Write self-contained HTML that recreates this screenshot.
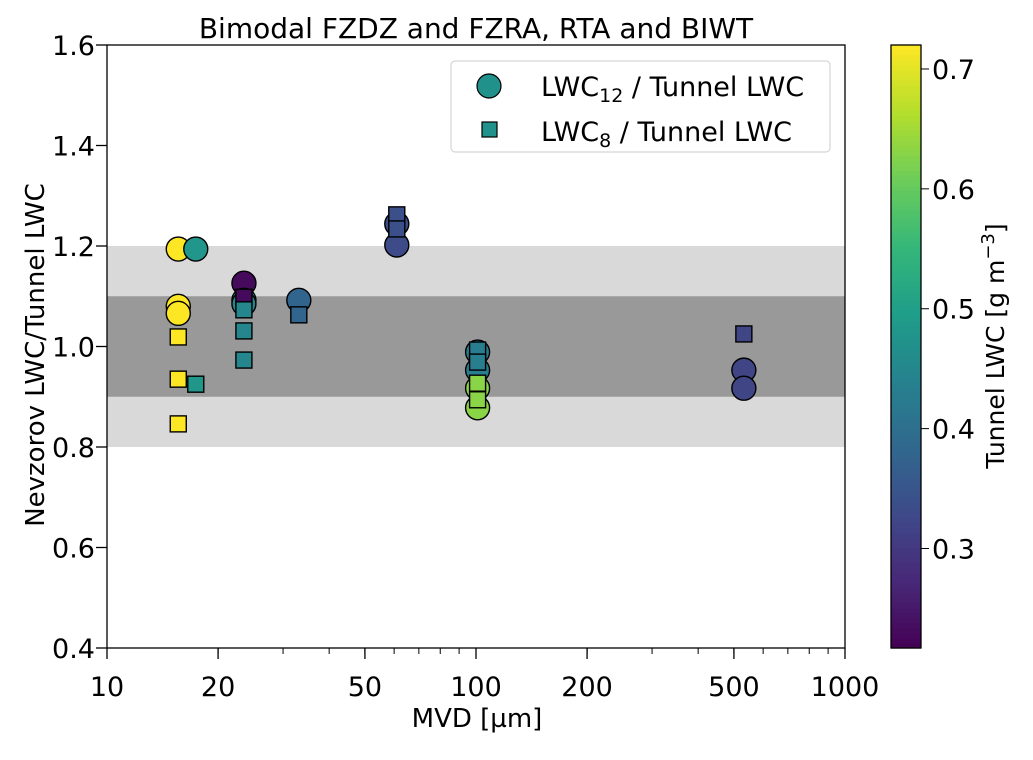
<!DOCTYPE html>
<html><head><meta charset="utf-8"><style>
body{margin:0;background:#fff}
svg text{font-family:"DejaVu Sans","Liberation Sans",sans-serif;fill:#000}
</style></head><body>
<svg id="chart" width="1033" height="755" xmlns="http://www.w3.org/2000/svg">
<g id="bands"></g><g id="marks"></g><g id="axes"></g><g id="cbar"></g>
<g id="legend">
<rect x="451" y="61" width="379" height="91" rx="4" fill="#fff" fill-opacity="0.8" stroke="#ccc"/>
<circle cx="489" cy="86" r="12" fill="#21918c" stroke="#000" stroke-width="1.2"/>
<rect x="482" y="122" width="15" height="15" fill="#21918c" stroke="#000" stroke-width="1.2"/>
<text x="541" y="96" font-size="27">LWC<tspan font-size="19" dy="6">12</tspan><tspan dy="-6"> / Tunnel LWC</tspan></text>
<text x="541" y="141" font-size="27">LWC<tspan font-size="19" dy="6">8</tspan><tspan dy="-6"> / Tunnel LWC</tspan></text>
</g>
</svg>
<script>
const circleMVD=[15.6,15.6,15.6,17.4,23.5,23.5,23.5,33.1,61,61,101,101,101,101,532,532];
const circleRatio=[1.194,1.08,1.066,1.194,1.126,1.092,1.085,1.092,1.244,1.202,0.989,0.953,0.917,0.878,0.953,0.917];
const circleLWC=[0.72,0.72,0.72,0.48,0.23,0.45,0.45,0.38,0.34,0.33,0.43,0.43,0.63,0.63,0.32,0.32];
const squareMVD=[15.6,15.6,15.6,17.4,23.5,23.5,23.5,23.5,33.1,61,61,101,101,101,101,532];
const squareRatio=[1.019,0.935,0.846,0.925,1.098,1.073,1.031,0.973,1.063,1.262,1.234,0.993,0.969,0.927,0.894,1.025];
const squareLWC=[0.72,0.72,0.72,0.48,0.23,0.45,0.45,0.45,0.38,0.34,0.34,0.43,0.43,0.63,0.63,0.32];
const xTicks=[10,20,50,100,200,500,1000];
const yTicks=[0.4,0.6,0.8,1.0,1.2,1.4,1.6];
const cTicks=[0.3,0.4,0.5,0.6,0.7];
const bands=[[0.8,1.2,"#d9d9d9"],[0.9,1.1,"#999999"]];

const NS="http://www.w3.org/2000/svg";
const X0=107,X1=845,Y0=45,Y1=648,CMIN=0.217,CMAX=0.72,CB0=891,CB1=921;
const xs=v=>X0+(Math.log10(v)-1)/2*(X1-X0);
const ys=v=>Y1-(v-0.4)/1.2*(Y1-Y0);
const cs=v=>Y1-(v-CMIN)/(CMAX-CMIN)*(Y1-Y0);
const vir=[[68,1,84],[72,40,120],[62,74,137],[49,104,142],[38,130,142],[31,158,137],[53,183,121],[109,205,89],[180,222,44],[253,231,37]];
function viridis(t){t=Math.max(0,Math.min(1,t))*9;const i=Math.min(8,Math.floor(t)),f=t-i;const a=vir[i],b=vir[i+1];return `rgb(${a.map((c,k)=>Math.round(c+(b[k]-c)*f)).join(",")})`;}
const cmap=v=>viridis((v-CMIN)/(CMAX-CMIN));
function mk(tag,at,parent){const e=document.createElementNS(NS,tag);for(const k in at)e.setAttribute(k,at[k]);document.getElementById(parent).appendChild(e);return e;}

bands.forEach((b,i)=>{const e=mk("rect",{x:X0,y:ys(b[1]),width:X1-X0,height:ys(b[0])-ys(b[1]),fill:b[2]},"bands");

});

circleMVD.forEach((m,i)=>{const e=mk("circle",{cx:xs(m),cy:ys(circleRatio[i]),r:12,fill:cmap(circleLWC[i]),stroke:"#000","stroke-width":1.4},"marks");

});
squareMVD.forEach((m,i)=>{const e=mk("rect",{x:xs(m)-8,y:ys(squareRatio[i])-8,width:16,height:16,fill:cmap(squareLWC[i]),stroke:"#000","stroke-width":1.4},"marks");

});

const fr=mk("rect",{x:X0,y:Y0,width:X1-X0,height:Y1-Y0,fill:"none",stroke:"#000","stroke-width":1.3},"axes");


for(let d=10;d<1000;d*=10)for(let k=2;k<10;k++){const e=mk("line",{x1:xs(d*k),x2:xs(d*k),y1:Y1,y2:Y1+6,stroke:"#000"},"axes");

}
xTicks.forEach(t=>{const l=mk("line",{x1:xs(t),x2:xs(t),y1:Y1,y2:Y1+11,stroke:"#000","stroke-width":1.3},"axes");


const tx=mk("text",{x:xs(t),y:696,"font-size":27,"text-anchor":"middle"},"axes");tx.textContent=t;

});
yTicks.forEach(t=>{const l=mk("line",{x1:X0-11,x2:X0,y1:ys(t),y2:ys(t),stroke:"#000","stroke-width":1.3},"axes");


const tx=mk("text",{x:X0-12,y:ys(t)+10,"font-size":27,"text-anchor":"end"},"axes");tx.textContent=t.toFixed(1);

});
let t=mk("text",{x:477,y:727,"font-size":26,"text-anchor":"middle"},"axes");t.textContent="MVD [µm]";


t=mk("text",{x:0,y:0,"font-size":26,"text-anchor":"middle",transform:"translate(44,355) rotate(-90)"},"axes");t.textContent="Nevzorov LWC/Tunnel LWC";


t=mk("text",{x:476,y:38,"font-size":28,"text-anchor":"middle"},"axes");t.textContent="Bimodal FZDZ and FZRA, RTA and BIWT";



const N=120;for(let i=0;i<N;i++){const v0=CMIN+(CMAX-CMIN)*i/N,v1=CMIN+(CMAX-CMIN)*(i+1)/N;
const e=mk("rect",{x:CB0,y:cs(v1),width:CB1-CB0,height:cs(v0)-cs(v1)+0.6,fill:cmap((v0+v1)/2)},"cbar");

}
const cf=mk("rect",{x:CB0,y:Y0,width:CB1-CB0,height:Y1-Y0,fill:"none",stroke:"#000","stroke-width":1.3},"cbar");


cTicks.forEach(v=>{const l=mk("line",{x1:CB1,x2:CB1+8,y1:cs(v),y2:cs(v),stroke:"#000"},"cbar");


const tx=mk("text",{x:CB1+11,y:cs(v)+10,"font-size":27},"cbar");tx.textContent=v.toFixed(1);

});
t=mk("text",{x:0,y:0,"font-size":25,"text-anchor":"middle",transform:"translate(1004,346) rotate(-90)"},"cbar");
t.innerHTML='Tunnel LWC [g m<tspan dy="-10" font-size="18">−3</tspan><tspan dy="10">]</tspan>';


</script>
</body></html>
